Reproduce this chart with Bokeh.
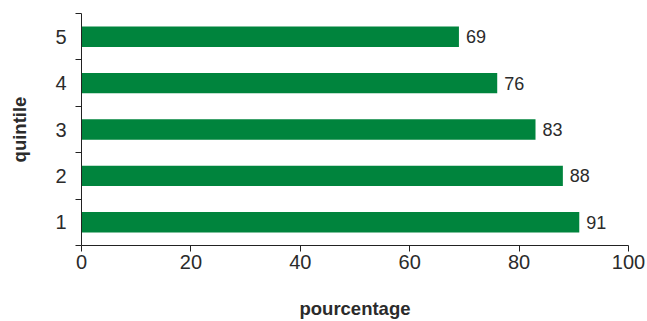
from bokeh.plotting import figure
from bokeh.models import ColumnDataSource, Range1d, FixedTicker
from bokeh.core.properties import value
from bokeh.embed import file_html
from bokeh.resources import INLINE

quintiles = [1, 2, 3, 4, 5]
pourcentages = [91, 88, 83, 76, 69]
labels = [str(v) for v in pourcentages]
x_ticks = [0, 20, 40, 60, 80, 100]

FONT = "Liberation Sans"
GREEN = "#00843D"
TXT = "#2b2b2b"

src = ColumnDataSource(data=dict(y=quintiles, x=pourcentages, lab=labels))

p = figure(width=647, height=321, output_backend="svg", toolbar_location=None,
           x_range=Range1d(0, 100), y_range=Range1d(0.5, 5.5),
           min_border_left=81, min_border_right=19, min_border_top=13, min_border_bottom=76)
p.outline_line_color = None
p.xgrid.grid_line_color = None
p.ygrid.grid_line_color = None
p.background_fill_color = "white"
p.border_fill_color = "white"

p.hbar(y="y", right="x", left=0, height=0.44, source=src, fill_color=GREEN, line_color=None)
p.text(x="x", y="y", text="lab", source=src, x_offset=7, text_align="left",
       text_baseline="middle", text_font=value(FONT), text_font_size="18px", text_color=TXT)

xa = p.xaxis[0]
xa.ticker = FixedTicker(ticks=x_ticks)
xa.axis_line_color = "#222222"
xa.major_tick_line_color = "#222222"
xa.major_tick_out = 6
xa.major_tick_in = 0
xa.minor_tick_line_color = None
xa.major_label_standoff = 3
xa.major_label_text_font = FONT
xa.major_label_text_font_size = "20px"
xa.major_label_text_color = TXT
xa.axis_label = "pourcentage"
xa.axis_label_text_font = FONT
xa.axis_label_text_font_size = "18.5px"
xa.axis_label_text_font_style = "bold"
xa.axis_label_text_color = TXT
xa.axis_label_standoff = 26

ya = p.yaxis[0]
ya.ticker = FixedTicker(ticks=quintiles, minor_ticks=[0.5, 1.5, 2.5, 3.5, 4.5, 5.5])
ya.axis_line_color = "#222222"
ya.major_tick_line_color = None
ya.major_tick_out = 0
ya.major_tick_in = 0
ya.minor_tick_line_color = "#222222"
ya.minor_tick_out = 6
ya.minor_tick_in = 0
ya.major_label_standoff = 9
ya.major_label_text_font = FONT
ya.major_label_text_font_size = "20px"
ya.major_label_text_color = TXT
ya.axis_label = "quintile"
ya.axis_label_text_font = FONT
ya.axis_label_text_font_size = "18.5px"
ya.axis_label_text_font_style = "bold"
ya.axis_label_text_color = TXT
ya.axis_label_standoff = 22

open("out.html", "w").write(file_html(p, INLINE))
